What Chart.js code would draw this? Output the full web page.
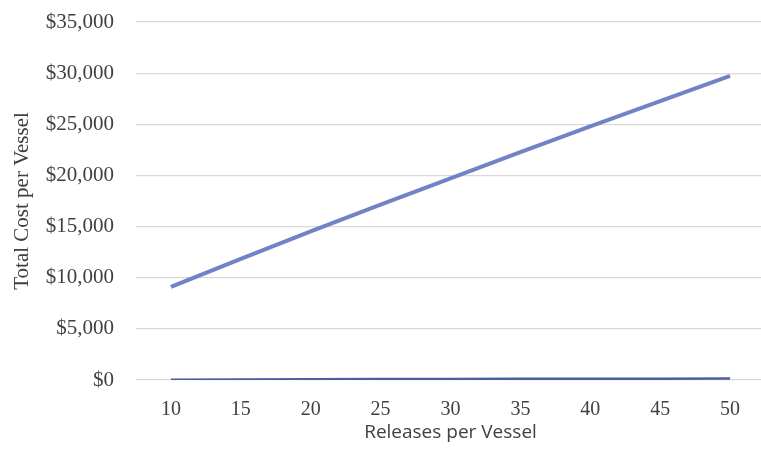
<!DOCTYPE html>
<html>
<head>
<meta charset="utf-8">
<script src="https://cdn.jsdelivr.net/npm/chart.js@4"></script>
<style>
  html, body { margin: 0; padding: 0; background: #fff; overflow: hidden; }
  #wrap { width: 761px; height: 452px; overflow: hidden; }
</style>
</head>
<body>
<div id="wrap"><canvas id="myChart" width="765" height="452"></canvas></div>
<script>
const releases = ['10', '15', '20', '25', '30', '35', '40', '45', '50'];
const costUpper = [9100, 11850, 14530, 17150, 19710, 22270, 24790, 27270, 29740];
const costLower = [20, 60, 80, 90, 100, 110, 120, 130, 140];
const yTicks = [0, 5000, 10000, 15000, 20000, 25000, 30000, 35000];

const ctx = document.getElementById('myChart');

new Chart(ctx, {
  type: 'line',
  data: {
    labels: releases,
    datasets: [{
      label: 'upper',
      data: costUpper,
      borderColor: '#7282c4',
      borderWidth: 4,
      pointRadius: 0,
      tension: 0
    }, {
      label: 'lower',
      data: costLower,
      borderColor: '#4d5d9f',
      borderWidth: 2.5,
      pointRadius: 0,
      tension: 0
    }]
  },
  options: {
    responsive: false,
    animation: false,
    layout: { padding: { top: 22, right: 0, left: 0, bottom: 0 } },
    plugins: { legend: { display: false }, tooltip: { enabled: false } },
    scales: {
      x: {
        offset: true,
        grid: { display: false, drawTicks: false },
        border: { display: false },
        ticks: { color: '#404040', padding: 18, font: { family: 'Liberation Serif', size: 20 } },
        title: {
          display: true,
          text: 'Releases per Vessel',
          color: '#404040',
          padding: { top: 0, bottom: 8 },
          font: { family: 'Open Sans', size: 19 }
        },
        afterFit: axis => { axis.height = 72; }
      },
      y: {
        min: 0,
        max: 35000,
        afterBuildTicks: axis => { axis.ticks = yTicks.map(v => ({ value: v })); },
        grid: { color: '#d9d9d9', lineWidth: 1.2, drawTicks: false },
        border: { display: false },
        ticks: {
          color: '#404040',
          padding: 22,
          font: { family: 'Liberation Serif', size: 21 },
          callback: v => '$' + v.toLocaleString('en-US')
        },
        title: {
          display: true,
          text: 'Total Cost per Vessel',
          color: '#404040',
          padding: { top: 10, bottom: 0 },
          font: { family: 'Liberation Serif', size: 21 }
        },
        afterFit: axis => {
          axis.width = 136;
          axis.paddingTop = 0;
          axis.paddingBottom = 0;
        }
      }
    }
  }
});
</script>
</body>
</html>
